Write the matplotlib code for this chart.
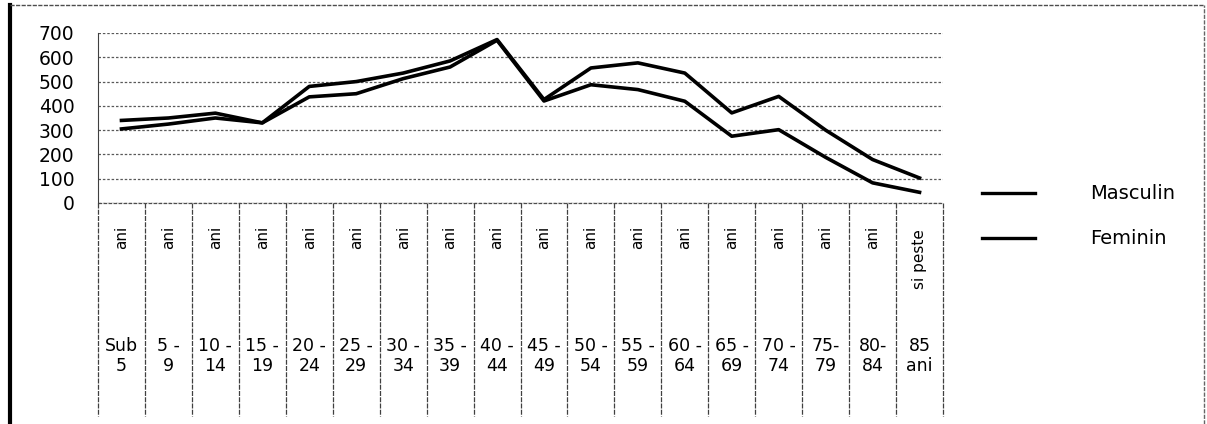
import matplotlib.pyplot as plt
from matplotlib.lines import Line2D

# grupe de varsta (doua randuri de text + eticheta rotita)
grupe_sus = ["Sub", "5 -", "10 -", "15 -", "20 -", "25 -", "30 -", "35 -", "40 -",
             "45 -", "50 -", "55 -", "60 -", "65 -", "70 -", "75-", "80-", "85"]
grupe_jos = ["5", "9", "14", "19", "24", "29", "34", "39", "44",
             "49", "54", "59", "64", "69", "74", "79", "84", "ani"]
grupe_rot = ["ani"] * 17 + ["si peste"]

masculin = [305, 325, 350, 330, 437, 450, 512, 560, 670,
            420, 487, 467, 419, 275, 302, 188, 83, 44]
feminin = [340, 350, 370, 330, 480, 500, 535, 585, 673,
           426, 556, 577, 535, 371, 439, 300, 179, 103]

plt.rcParams['font.family'] = ['DejaVu Sans']

W, H = 1207, 424
fig = plt.figure(figsize=(W / 100, H / 100), dpi=100)
ax = fig.add_axes([98 / W, (H - 203) / H, 845 / W, 170 / H])

x = list(range(len(masculin)))
ax.plot(x, masculin, color='black', lw=2.6, solid_joinstyle='round')
ax.plot(x, feminin, color='black', lw=2.6, solid_joinstyle='round')

ax.set_xlim(-0.5, len(x) - 0.5)
ax.set_ylim(0, 700)
ax.set_yticks(range(0, 701, 100))
ax.tick_params(axis='y', length=0, pad=17, labelsize=13.5)
ax.set_xticks([])
ax.grid(axis='y', color='0.35', linestyle=(0, (2, 1.5)), lw=0.9)
for s in ['top', 'right', 'bottom']:
    ax.spines[s].set_visible(False)
ax.spines['left'].set_linestyle((0, (3, 1)))
ax.spines['left'].set_color('0.25')
ax.axhline(0, color='0.3', lw=0.9, linestyle=(0, (3, 1)), clip_on=False)

# tabelul cu etichetele categoriilor
tr = ax.get_xaxis_transform()
for i in range(len(x) + 1):
    ax.plot([i - 0.5, i - 0.5], [0, -1.25], transform=tr, color='0.25',
            lw=0.9, linestyle=(0, (4, 1)), clip_on=False)
for i in x:
    ax.text(i, -0.2 if grupe_rot[i] == "ani" else -0.33, grupe_rot[i],
            transform=tr, rotation=90, ha='center', va='center', fontsize=11)
    ax.text(i, -0.9, grupe_sus[i] + "\n" + grupe_jos[i], transform=tr,
            ha='center', va='center', fontsize=12.5, linespacing=1.15)

# legenda
for yy, lab in [(193, "Masculin"), (238, "Feminin")]:
    fig.add_artist(Line2D([982 / W, 1035 / W], [1 - yy / H, 1 - yy / H],
                          color='black', lw=2.4))
    fig.text(1090 / W, 1 - yy / H, lab, va='center', ha='left', fontsize=14)

# chenarul graficului
fig.add_artist(Line2D([10 / W, 10 / W], [0, 1 - 5 / H], color='black', lw=3))
fig.add_artist(Line2D([10 / W, 1204 / W], [1 - 5 / H, 1 - 5 / H],
                      color='0.3', lw=1, linestyle=(0, (3, 1))))
fig.add_artist(Line2D([1204 / W, 1204 / W], [0, 1 - 5 / H],
                      color='0.4', lw=1, linestyle=(0, (3, 1))))

fig.savefig('out.png', dpi=100)
